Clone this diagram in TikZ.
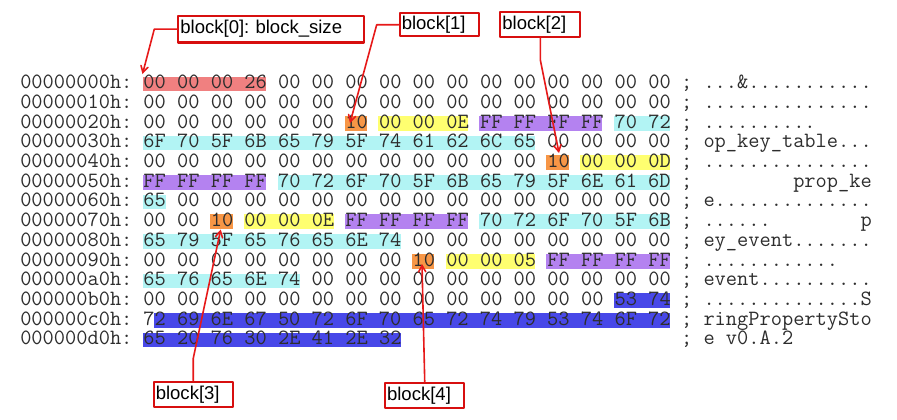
\documentclass[tikz,border=0pt]{standalone}
\usepackage{fontspec}
\setsansfont{Liberation Sans}
\usetikzlibrary{arrows}
\definecolor{hlred}{RGB}{240,128,128}
\definecolor{hlorange}{RGB}{247,150,70}
\definecolor{hlyellow}{RGB}{255,255,112}
\definecolor{hlpurple}{RGB}{180,130,240}
\definecolor{hlcyan}{RGB}{178,244,244}
\definecolor{hlblue}{RGB}{72,72,232}
\definecolor{dumpgray}{RGB}{45,45,45}
\definecolor{boxred}{RGB}{215,15,15}
\definecolor{linered}{RGB}{230,25,25}
\tikzset{
  dump/.style={inner sep=0pt,anchor=base west,text=dumpgray,
    font=\ttfamily\fontsize{16.34}{18}\selectfont\frenchspacing},
  blockbox/.style={draw=boxred,line width=1.6pt,inner xsep=1.5pt,inner ysep=0pt,
    anchor=north west,align=left,font=\sffamily\fontsize{13.9}{16}\selectfont\frenchspacing},
  pointer/.style={->,draw=linered,line width=1.2pt}
}

\begin{document}
\begin{tikzpicture}[line cap=round,line join=round,>=angle 60,x=0.75pt,y=-0.75pt]
\useasboundingbox (0,0) rectangle (897,419);
% highlighted bytes: row/first/last/colour
\foreach \r/\a/\b/\c in {0/0/3/hlred, 2/6/6/hlorange, 2/7/9/hlyellow, 2/10/13/hlpurple,
  2/14/15/hlcyan, 3/0/11/hlcyan, 4/12/12/hlorange, 4/13/15/hlyellow, 5/0/3/hlpurple,
  5/4/15/hlcyan, 6/0/0/hlcyan, 7/2/2/hlorange, 7/3/5/hlyellow, 7/6/9/hlpurple,
  7/10/15/hlcyan, 8/0/7/hlcyan, 9/8/8/hlorange, 9/9/11/hlyellow, 9/12/15/hlpurple,
  10/0/4/hlcyan, 11/14/15/hlblue, 12/0.333/15/hlblue, 13/0/7/hlblue}
  \fill[\c] ({143.2+33.6*\a},{76.5+19.7*\r}) rectangle ({165.6+33.6*\b},{91.2+19.7*\r});
% the dump
\foreach \ad/\hx/\as [count=\i from 0] in {
  00000000h:/00 00 00 26 00 00 00 00 00 00 00 00 00 00 00 00/{...\&...........},
  00000010h:/00 00 00 00 00 00 00 00 00 00 00 00 00 00 00 00/{...............},
  00000020h:/00 00 00 00 00 00 10 00 00 0E FF FF FF FF 70 72/{..........},
  00000030h:/6F 70 5F 6B 65 79 5F 74 61 62 6C 65 00 00 00 00/{op\_key\_table...},
  00000040h:/00 00 00 00 00 00 00 00 00 00 00 00 10 00 00 0D/{...............},
  00000050h:/FF FF FF FF 70 72 6F 70 5F 6B 65 79 5F 6E 61 6D/{\hphantom{00000000}prop\_ke},
  00000060h:/65 00 00 00 00 00 00 00 00 00 00 00 00 00 00 00/{e..............},
  00000070h:/00 00 10 00 00 0E FF FF FF FF 70 72 6F 70 5F 6B/{......\hphantom{00000000}p},
  00000080h:/65 79 5F 65 76 65 6E 74 00 00 00 00 00 00 00 00/{ey\_event.......},
  00000090h:/00 00 00 00 00 00 00 00 10 00 00 05 FF FF FF FF/{............},
  000000a0h:/65 76 65 6E 74 00 00 00 00 00 00 00 00 00 00 00/{event..........},
  000000b0h:/00 00 00 00 00 00 00 00 00 00 00 00 00 00 53 74/{..............S},
  000000c0h:/72 69 6E 67 50 72 6F 70 65 72 74 79 53 74 6F 72/{ringPropertySto},
  000000d0h:/65 20 76 30 2E 41 2E 32/{e v0.A.2}}{
  \node[dump] (ad\i) at (20,{88.7+19.7*\i}) {\ad};
  \node[dump] (hx\i) at (143.2,{88.7+19.7*\i}) {\hx};
  \node[dump] (as\i) at (680.8,{88.7+19.7*\i}) {; \as};
}
% labels
\node[blockbox,text width=136.5pt,minimum height=20pt] (b0) at (177.3,14.7) {block[0]: block\_size};
\node[blockbox,text width=56.7pt,minimum height=17.5pt] (b1) at (398.7,12) {block[1]};
\node[blockbox,text width=57pt,minimum height=19pt] (b2) at (499.3,10.7) {block[2]};
\node[blockbox,text width=56.25pt,minimum height=19pt] (b3) at (152.7,380.7) {block[3]};
\node[blockbox,text width=56.5pt,minimum height=19.2pt] (b4) at (384,381.7) {block[4]};
\coordinate (t0) at (142.5,74);
\coordinate (t1) at (350,123);
\coordinate (t2) at (559,153);
\coordinate (t3) at (220.7,229.5);
\coordinate (t4) at (422,264);
\draw[pointer] (b0.west) -- ++(-23,0) -- (t0);
\draw[pointer] (b1.west) -- ++(-22,0) -- (t1);
\draw[pointer] (b2.south) -- ++(0,22) -- (t2);
\draw[pointer] (b3.north) -- ++(0,-22.4) -- (t3);
\draw[pointer] (b4.north) -- (t4);
\end{tikzpicture}
\end{document}
